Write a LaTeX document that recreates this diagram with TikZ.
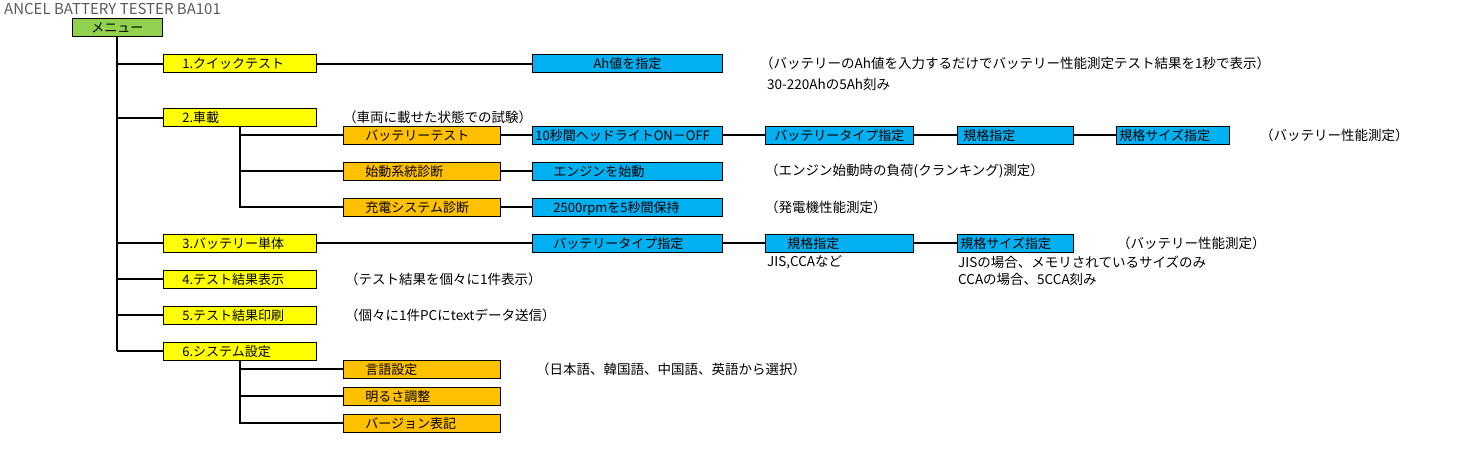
\documentclass[tikz,border=0pt]{standalone}
\usepackage{fontspec}
\setmainfont{Noto Sans CJK JP}
\definecolor{menugreen}{RGB}{146,208,80}
\definecolor{itemyellow}{RGB}{255,255,0}
\definecolor{suborange}{RGB}{255,192,0}
\definecolor{stepblue}{RGB}{0,176,240}
\definecolor{titlegray}{RGB}{90,90,90}
\begin{document}
\begin{tikzpicture}[
        x=1pt, y=-1pt,
        font=\fontsize{13}{15}\selectfont,
        box_base/.style={rectangle, draw, line width=0.8pt, anchor=west, minimum height=18pt,
            inner ysep=0pt, text height=11.5pt, text depth=1.5pt},
        menu_box/.style={box_base, fill=menugreen, minimum width=90pt, inner xsep=0pt},
        item_box/.style={box_base, fill=itemyellow, inner xsep=19pt, text width=115pt, align=left},
        sub_box/.style={box_base, fill=suborange, inner xsep=22pt, text width=113pt, align=left},
        step_box/.style={box_base, fill=stepblue, align=left},
        note_label/.style={anchor=west, inner sep=0pt, font=\fontsize{13.5}{16}\selectfont},
        branch/.style={line width=2pt}
    ]
        \useasboundingbox (0,0) rectangle (1477,451);
        % Titel und Menue
        \node[note_label, text=titlegray, font=\fontsize{15}{17}\selectfont] (title) at (4,9) {ANCEL BATTERY TESTER BA101};
        \node[menu_box] (menu) at (72,27.5) {メニュー};

        % Hauptpunkte
        \node[item_box] (quick) at (163,63.5) {1.クイックテスト};
        \node[item_box] (vehicle) at (163,117.5) {2.車載};
        \node[item_box] (single) at (163,243) {3.バッテリー単体};
        \node[item_box] (result) at (163,279) {4.テスト結果表示};
        \node[item_box] (print) at (163,315) {5.テスト結果印刷};
        \node[item_box] (setup) at (163,351) {6.システム設定};

        % 1. Quick test
        \node[step_box, inner xsep=3pt, text width=184pt, align=center] (ahset) at (532,63.5) {Ah値を指定};
        \node[note_label] (quicknote) at (760,63.5) {（バッテリーのAh値を入力するだけでバッテリー性能測定テスト結果を1秒で表示）};
        \node[note_label] (ahrange) at (767,84) {30-220Ahの5Ah刻み};

        % 2. Vehicle
        \node[note_label] (vehiclenote) at (343,117.5) {（車両に載せた状態での試験）};
        \node[sub_box] (battest) at (343,135) {バッテリーテスト};
        \node[sub_box] (starter) at (343,171) {始動系統診断};
        \node[sub_box] (charging) at (343,207) {充電システム診断};
        \node[step_box, inner xsep=3pt, text width=184pt] (headlight) at (532,135) {10秒間ヘッドライトON－OFF};
        \node[step_box, inner xsep=3pt, text width=142pt, align=center] (vtype) at (765,135) {バッテリータイプ指定};
        \node[step_box, inner xsep=6pt, text width=104pt] (vstd) at (957,135) {規格指定};
        \node[step_box, inner xsep=3pt, text width=107pt] (vsize) at (1116,135) {規格サイズ指定};
        \node[note_label] (vtestnote) at (1260,135) {（バッテリー性能測定）};
        \node[step_box, inner xsep=21pt, text width=148pt] (crank) at (532,171) {エンジンを始動};
        \node[note_label] (cranknote) at (765,171) {（エンジン始動時の負荷(クランキング)測定）};
        \node[step_box, inner xsep=21pt, text width=148pt] (rpm) at (532,207) {2500rpmを5秒間保持};
        \node[note_label] (rpmnote) at (765,207) {（発電機性能測定）};

        % 3. Battery only
        \node[step_box, inner xsep=21pt, text width=148pt] (stype) at (532,243) {バッテリータイプ指定};
        \node[step_box, inner xsep=22pt, text width=104pt] (sstd) at (765,243) {規格指定};
        \node[step_box, inner xsep=3pt, text width=110pt] (ssize) at (957,243) {規格サイズ指定};
        \node[note_label] (singlenote) at (1117,243) {（バッテリー性能測定）};
        \node[note_label] (stdnote) at (767,262.5) {JIS,CCAなど};
        \node[note_label] (sizenote) at (958,262.5) {JISの場合、メモリされているサイズのみ};
        \node[note_label] (ccanote) at (958,279.5) {CCAの場合、5CCA刻み};

        % 4./5.
        \node[note_label] (resultnote) at (345,279) {（テスト結果を個々に1件表示）};
        \node[note_label] (printnote) at (345,315) {（個々に1件PCにtextデータ送信）};

        % 6. System setup
        \node[sub_box] (lang) at (343,369) {言語設定};
        \node[sub_box] (bright) at (343,396) {明るさ調整};
        \node[sub_box] (version) at (343,423) {バージョン表記};
        \node[note_label] (langnote) at (536,369) {（日本語、韓国語、中国語、英語から選択）};

        % Verbindungen
        \draw[branch] (menu.south) -- (menu.south |- setup.west);
        \foreach \item in {quick, vehicle, single, result, print, setup}
            \draw[branch] (menu.south |- \item.west) -- (\item.west);
        \foreach \sub in {battest, starter, charging}
            \draw[branch] (vehicle.south) |- (\sub.west);
        \foreach \sub in {lang, bright, version}
            \draw[branch] (setup.south) |- (\sub.west);
        \draw[branch] (quick) -- (ahset);
        \draw[branch] (battest) -- (headlight) -- (vtype) -- (vstd) -- (vsize);
        \draw[branch] (starter) -- (crank);
        \draw[branch] (charging) -- (rpm);
        \draw[branch] (single) -- (stype) -- (sstd) -- (ssize);
    \end{tikzpicture}
\end{document}
